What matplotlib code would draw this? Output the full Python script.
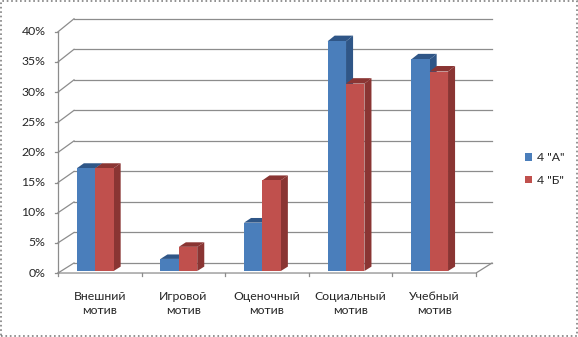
import numpy as np
import matplotlib.pyplot as plt
from matplotlib.patches import Polygon, Rectangle, Patch

# data
categories = ['Внешний\nмотив', 'Игровой\nмотив', 'Оценочный\nмотив', 'Социальный\nмотив', 'Учебный\nмотив']
series_names = ['4 "А"', '4 "Б"']
values_a = [17, 2, 8, 38, 35]
values_b = [17, 4, 15, 31, 33]
yticks = [0, 5, 10, 15, 20, 25, 30, 35, 40]

face_colors = ['#4a7ebb', '#c0504d']
dark_colors = ['#2f5687', '#8a3533']
grid_color = '#8c8c8c'
text_color = '#262626'

plt.rcParams['font.family'] = ['Lato', 'DejaVu Sans']


def proj(c, v, d):
    # oblique 3D look: d is depth (0 = front, 1 = back wall)
    return c + 0.1914 * d, v + d * (1.66 + 0.0124 * v)


fig = plt.figure(figsize=(5.78, 3.37), dpi=100)
ax = fig.add_axes([0, 0, 1, 1])
ax.set_xlim(-1.1938, 5.72)
ax.set_ylim(-10.61, 45.27)
ax.axis('off')

n = len(categories)
x_left, x_right = -0.5, n - 0.5

# back wall gridlines + left wall diagonals
for v in yticks:
    p0 = proj(x_left, v, 1)
    p1 = proj(x_right, v, 1)
    ax.plot([p0[0], p1[0]], [p0[1], p1[1]], color=grid_color, lw=0.9, zorder=1)
    q0 = proj(x_left, v, 0)
    ax.plot([q0[0], p0[0]], [q0[1], p0[1]], color=grid_color, lw=0.9, zorder=1)
    ax.plot([x_left - 0.03, x_left], [v, v], color=grid_color, lw=0.9, zorder=1)
    ax.text(-0.65, v, f'{v}%', ha='right', va='center', fontsize=8.8, color=text_color)

# floor edges
f0 = proj(x_left, 0, 0)
f1 = proj(x_right, 0, 0)
f2 = proj(x_right, 0, 1)
ax.plot([f0[0], f1[0], f2[0]], [f0[1], f1[1], f2[1]], color=grid_color, lw=0.9, zorder=1)
ax.plot([x_left, x_left], [0, 40], color=grid_color, lw=0.9, zorder=1)
for i in range(n + 1):
    ax.plot([x_left + i, x_left + i], [0, -0.5], color=grid_color, lw=0.9, zorder=1)

# bars
d0, d1 = 0.2, 0.64
bw = 0.22
for i in range(n):
    for s, vals in enumerate([values_a, values_b]):
        v = vals[i]
        xa = i - 0.313 + s * bw
        xb = xa + bw
        front = [proj(xa, 0, d0), proj(xb, 0, d0), proj(xb, v, d0), proj(xa, v, d0)]
        top = [proj(xa, v, d0), proj(xb, v, d0), proj(xb, v, d1), proj(xa, v, d1)]
        side = [proj(xb, 0, d0), proj(xb, 0, d1), proj(xb, v, d1), proj(xb, v, d0)]
        z = 3 + i * 2 + s
        ax.add_patch(Polygon(side, closed=True, facecolor=dark_colors[s], edgecolor='none', zorder=z))
        ax.add_patch(Polygon(top, closed=True, facecolor=dark_colors[s], edgecolor='none', zorder=z))
        ax.add_patch(Polygon(front, closed=True, facecolor=face_colors[s], edgecolor='none', zorder=z))

# category labels
for i, lab in enumerate(categories):
    ax.text(i, -5.06, lab, ha='center', va='center', fontsize=8.8, color=text_color, linespacing=1.3)

handles = [Patch(facecolor=face_colors[k], edgecolor='none', label=series_names[k]) for k in range(2)]
ax.legend(handles=handles, loc='center left', bbox_to_anchor=(514 / 578, 1 - 169 / 337),
          frameon=False, fontsize=8.8, handlelength=0.55, handleheight=0.55, handletextpad=0.4,
          labelspacing=0.95, labelcolor=text_color)

fig.add_artist(Rectangle((0.001, 0.002), 0.997, 0.996, transform=fig.transFigure, fill=False,
                         edgecolor='#7f7f7f', lw=1.2, linestyle=':'))

fig.savefig('out.png', dpi=100)
